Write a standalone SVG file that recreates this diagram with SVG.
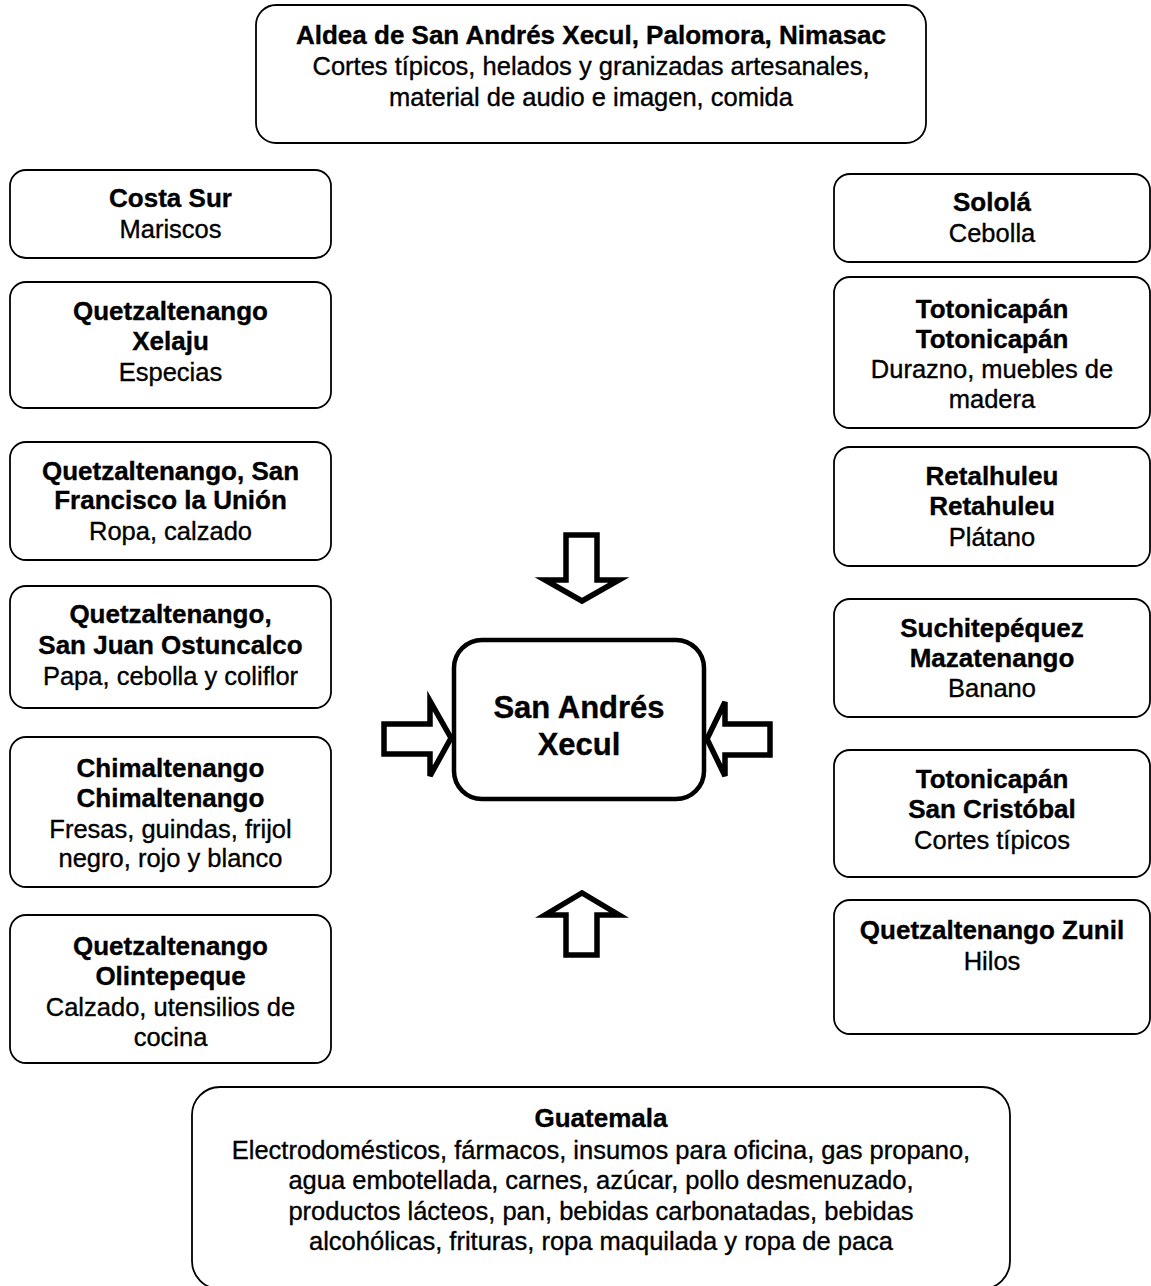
<svg xmlns="http://www.w3.org/2000/svg" width="1151" height="1286" viewBox="0 0 1151 1286">
<style>
.box{fill:#fff;stroke:#000;stroke-width:1.8}
.main{fill:#fff;stroke:#000;stroke-width:4.5}
.arr{fill:#fff;stroke:#000;stroke-width:5.5;stroke-linejoin:miter}
text{font-family:"Liberation Sans",Arial,sans-serif;font-size:25.5px;fill:#000;text-anchor:middle;stroke:#000;stroke-width:0.35}
.b{font-weight:bold;font-size:26px}
.c{font-weight:bold;font-size:31px}
</style>
<rect width="1151" height="1286" fill="#fff"/>
<g id="top"><rect class="box" x="256" y="5" width="670" height="138" rx="20"/>
<text class="b" x="591" y="44">Aldea de San Andrés Xecul, Palomora, Nimasac</text>
<text x="591" y="75">Cortes típicos, helados y granizadas artesanales,</text>
<text x="591" y="106">material de audio e imagen, comida</text></g>
<g id="costa-sur"><rect class="box" x="10" y="170" width="321" height="88" rx="16"/>
<text class="b" x="170.5" y="207">Costa Sur</text><text x="170.5" y="238">Mariscos</text></g>
<g id="xelaju"><rect class="box" x="10" y="282" width="321" height="126" rx="16"/>
<text class="b" x="170.5" y="320">Quetzaltenango</text><text class="b" x="170.5" y="350">Xelaju</text><text x="170.5" y="381">Especias</text></g>
<g id="san-francisco"><rect class="box" x="10" y="442" width="321" height="118" rx="16"/>
<text class="b" x="170.5" y="480">Quetzaltenango, San</text><text class="b" x="170.5" y="509">Francisco la Unión</text><text x="170.5" y="540">Ropa, calzado</text></g>
<g id="ostuncalco"><rect class="box" x="10" y="586" width="321" height="122" rx="16"/>
<text class="b" x="170.5" y="623">Quetzaltenango,</text><text class="b" x="170.5" y="654">San Juan Ostuncalco</text><text x="170.5" y="685">Papa, cebolla y coliflor</text></g>
<g id="chimaltenango"><rect class="box" x="10" y="737" width="321" height="150" rx="16"/>
<text class="b" x="170.5" y="777">Chimaltenango</text><text class="b" x="170.5" y="807">Chimaltenango</text><text x="170.5" y="838">Fresas, guindas, frijol</text><text x="170.5" y="867">negro, rojo y blanco</text></g>
<g id="olintepeque"><rect class="box" x="10" y="915" width="321" height="148" rx="16"/>
<text class="b" x="170.5" y="955">Quetzaltenango</text><text class="b" x="170.5" y="985">Olintepeque</text><text x="170.5" y="1016">Calzado, utensilios de</text><text x="170.5" y="1046">cocina</text></g>
<g id="solola"><rect class="box" x="834" y="174" width="316" height="88" rx="16"/>
<text class="b" x="992" y="211">Sololá</text><text x="992" y="242">Cebolla</text></g>
<g id="totonicapan"><rect class="box" x="834" y="277" width="316" height="151" rx="16"/>
<text class="b" x="992" y="318">Totonicapán</text><text class="b" x="992" y="348">Totonicapán</text><text x="992" y="378">Durazno, muebles de</text><text x="992" y="408">madera</text></g>
<g id="retalhuleu"><rect class="box" x="834" y="447" width="316" height="119" rx="16"/>
<text class="b" x="992" y="485">Retalhuleu</text><text class="b" x="992" y="515">Retahuleu</text><text x="992" y="546">Plátano</text></g>
<g id="suchitepequez"><rect class="box" x="834" y="599" width="316" height="118" rx="16"/>
<text class="b" x="992" y="637">Suchitepéquez</text><text class="b" x="992" y="667">Mazatenango</text><text x="992" y="697">Banano</text></g>
<g id="san-cristobal"><rect class="box" x="834" y="750" width="316" height="127" rx="16"/>
<text class="b" x="992" y="788">Totonicapán</text><text class="b" x="992" y="818">San Cristóbal</text><text x="992" y="849">Cortes típicos</text></g>
<g id="zunil"><rect class="box" x="834" y="900" width="316" height="134" rx="16"/>
<text class="b" x="992" y="939">Quetzaltenango Zunil</text><text x="992" y="970">Hilos</text></g>
<g id="guatemala"><rect class="box" x="192" y="1087" width="818" height="202" rx="28"/>
<text class="b" x="601" y="1127">Guatemala</text>
<text x="601" y="1159">Electrodomésticos, fármacos, insumos para oficina, gas propano,</text>
<text x="601" y="1189">agua embotellada, carnes, azúcar, pollo desmenuzado,</text>
<text x="601" y="1220">productos lácteos, pan, bebidas carbonatadas, bebidas</text>
<text x="601" y="1250">alcohólicas, frituras, ropa maquilada y ropa de paca</text></g>
<g id="center"><rect class="main" x="454" y="640" width="250" height="159" rx="28"/>
<text class="c" x="579" y="718">San Andrés</text><text class="c" x="579" y="755">Xecul</text></g>
<g id="connectors">
<path class="arr" d="M566,535 L597,535 L597,580 L619,580 L582,601 L545,580 L566,580 Z"/>
<path class="arr" d="M566,955 L597,955 L597,915 L619,915 L582,893 L545,915 L566,915 Z"/>
<path class="arr" d="M384,724 L430,724 L430,701 L451,738 L430,776 L430,754 L384,754 Z"/>
<path class="arr" d="M770,724 L725,724 L725,702 L707,739 L725,776 L725,755 L770,755 Z"/>
</g>
</svg>
